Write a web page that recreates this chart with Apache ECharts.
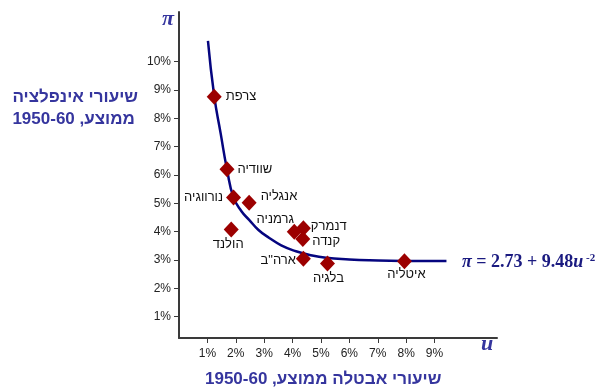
<!DOCTYPE html>
<html>
<head>
<meta charset="utf-8">
<script src="https://cdn.jsdelivr.net/npm/echarts@6/dist/echarts.min.js"></script>
<style>
  html, body { margin: 0; padding: 0; background: #fff; }
  #chart { width: 600px; height: 390px; }
</style>
</head>
<body>
<div id="chart"></div>
<script>
// countries, avg unemployment (u) and avg inflation (pi), 1950-60
var countries = ['צרפת', 'שוודיה', 'נורווגיה', 'אנגליה', 'הולנד', 'גרמניה', 'דנמרק', 'קנדה', 'ארה"ב', 'בלגיה', 'איטליה'];
var unemployment = [1.24, 1.69, 1.92, 2.47, 1.84, 4.06, 4.38, 4.36, 4.38, 5.23, 7.94];
var inflation = [8.76, 6.20, 5.21, 5.02, 4.08, 4.00, 4.12, 3.74, 3.05, 2.88, 2.96];

// fitted curve
var curveU = [1.02, 1.24, 1.47, 1.69, 1.92, 2.2, 2.47, 2.8, 3.18, 3.6, 4.12, 4.6, 5.18, 6.0, 6.71, 7.89, 9.42];
var curvePi = [10.73, 8.79, 7.45, 6.20, 5.21, 4.72, 4.42, 4.06, 3.78, 3.52, 3.31, 3.18, 3.08, 3.02, 2.99, 2.97, 2.97];

var xTicks = [1, 2, 3, 4, 5, 6, 7, 8, 9];
var yTicks = [1, 2, 3, 4, 5, 6, 7, 8, 9, 10];

// where each country name sits relative to its marker
var labelPlace = {
    'צרפת': { position: 'right', distance: 4 },
    'שוודיה': { position: 'right', distance: 3 },
    'נורווגיה': { position: 'left', distance: 3 },
    'אנגליה': { position: 'right', distance: 4, offset: [0, -6] },
    'הולנד': { position: 'bottom', distance: 0, offset: [-3, 0] },
    'גרמניה': { position: 'top', distance: 5, offset: [-19, 7] },
    'דנמרק': { position: 'right', distance: 0, offset: [0, -2] },
    'קנדה': { position: 'right', distance: 2, offset: [0, 2] },
    'ארה"ב': { position: 'left', distance: 0, offset: [0, 2] },
    'בלגיה': { position: 'bottom', distance: 0, offset: [1, 0] },
    'איטליה': { position: 'bottom', distance: -1, offset: [2, 0] }
};

var font = 'Liberation Sans, Arial, DejaVu Sans, sans-serif';
var titleColor = '#35359e';

var points = [];
for (var i = 0; i < countries.length; i++) {
    var p = labelPlace[countries[i]];
    points.push({
        name: countries[i],
        value: [unemployment[i], inflation[i]],
        label: {
            show: true,
            position: p.position,
            distance: p.distance,
            offset: p.offset || [0, 0]
        }
    });
}

var curve = [];
for (var j = 0; j < curveU.length; j++) {
    curve.push([curveU[j], curvePi[j]]);
}

var myChart = echarts.init(document.getElementById('chart'), null, { renderer: 'canvas' });

var option = {
    backgroundColor: '#fff',
    animation: false,
    grid: { left: 179, right: 103, top: 12, bottom: 52 },
    xAxis: {
        type: 'value',
        min: 0,
        max: 11.2,
        splitLine: { show: false },
        axisLine: { lineStyle: { color: '#3a3a3a', width: 2 } },
        axisTick: { customValues: xTicks, length: 5, lineStyle: { color: '#3a3a3a' } },
        axisLabel: {
            customValues: xTicks,
            formatter: function (v) { return v + '%'; },
            color: '#222', fontSize: 12, fontFamily: font, margin: 10
        }
    },
    yAxis: {
        type: 'value',
        min: 0.25,
        max: 11.75,
        splitLine: { show: false },
        axisLine: { lineStyle: { color: '#3a3a3a', width: 2 } },
        axisTick: { customValues: yTicks, length: 5, lineStyle: { color: '#3a3a3a' } },
        axisLabel: {
            customValues: yTicks,
            formatter: function (v) { return v + '%'; },
            color: '#222', fontSize: 12, fontFamily: font, margin: 8
        }
    },
    series: [
        {
            type: 'line',
            data: curve,
            smooth: 0.5,
            showSymbol: false,
            lineStyle: { color: '#05057f', width: 2.5 },
            z: 2
        },
        {
            type: 'scatter',
            data: points,
            symbol: 'diamond',
            symbolSize: [15, 16],
            itemStyle: { color: '#9c0000', opacity: 1 },
            label: {
                formatter: '{b}',
                color: '#111',
                fontSize: 13,
                fontFamily: font
            },
            z: 3
        }
    ],
    graphic: [
        {
            type: 'text', left: 162, top: 8,
            style: { text: 'π', font: 'italic bold 22px Liberation Serif, serif', fill: titleColor }
        },
        {
            type: 'text', left: 481, top: 333,
            style: { text: 'u', font: 'italic bold 22px Liberation Serif, serif', fill: titleColor }
        },
        {
            type: 'text', right: 462, top: 86,
            style: {
                text: 'שיעורי אינפלציה\nממוצע, 1950-60',
                font: 'bold 17px ' + font, fill: titleColor,
                align: 'right', lineHeight: 22
            }
        },
        {
            type: 'text', left: 205, top: 371,
            style: { text: 'שיעורי אבטלה ממוצע, 1950-60', font: 'bold 17px ' + font, fill: titleColor }
        },
        {
            type: 'text', left: 462, top: 253,
            style: {
                text: '{i|π} = 2.73 + 9.48{i|u}{s| -2}',
                font: 'bold 18px Liberation Serif, serif',
                fill: '#1a1a80',
                rich: {
                    i: { font: 'italic bold 18px Liberation Serif, serif', fill: '#1a1a80' },
                    s: { font: 'bold 11px Liberation Serif, serif', fill: '#1a1a80', verticalAlign: 'top', lineHeight: 14 }
                }
            }
        }
    ]
};

myChart.setOption(option);
</script>
</body>
</html>
